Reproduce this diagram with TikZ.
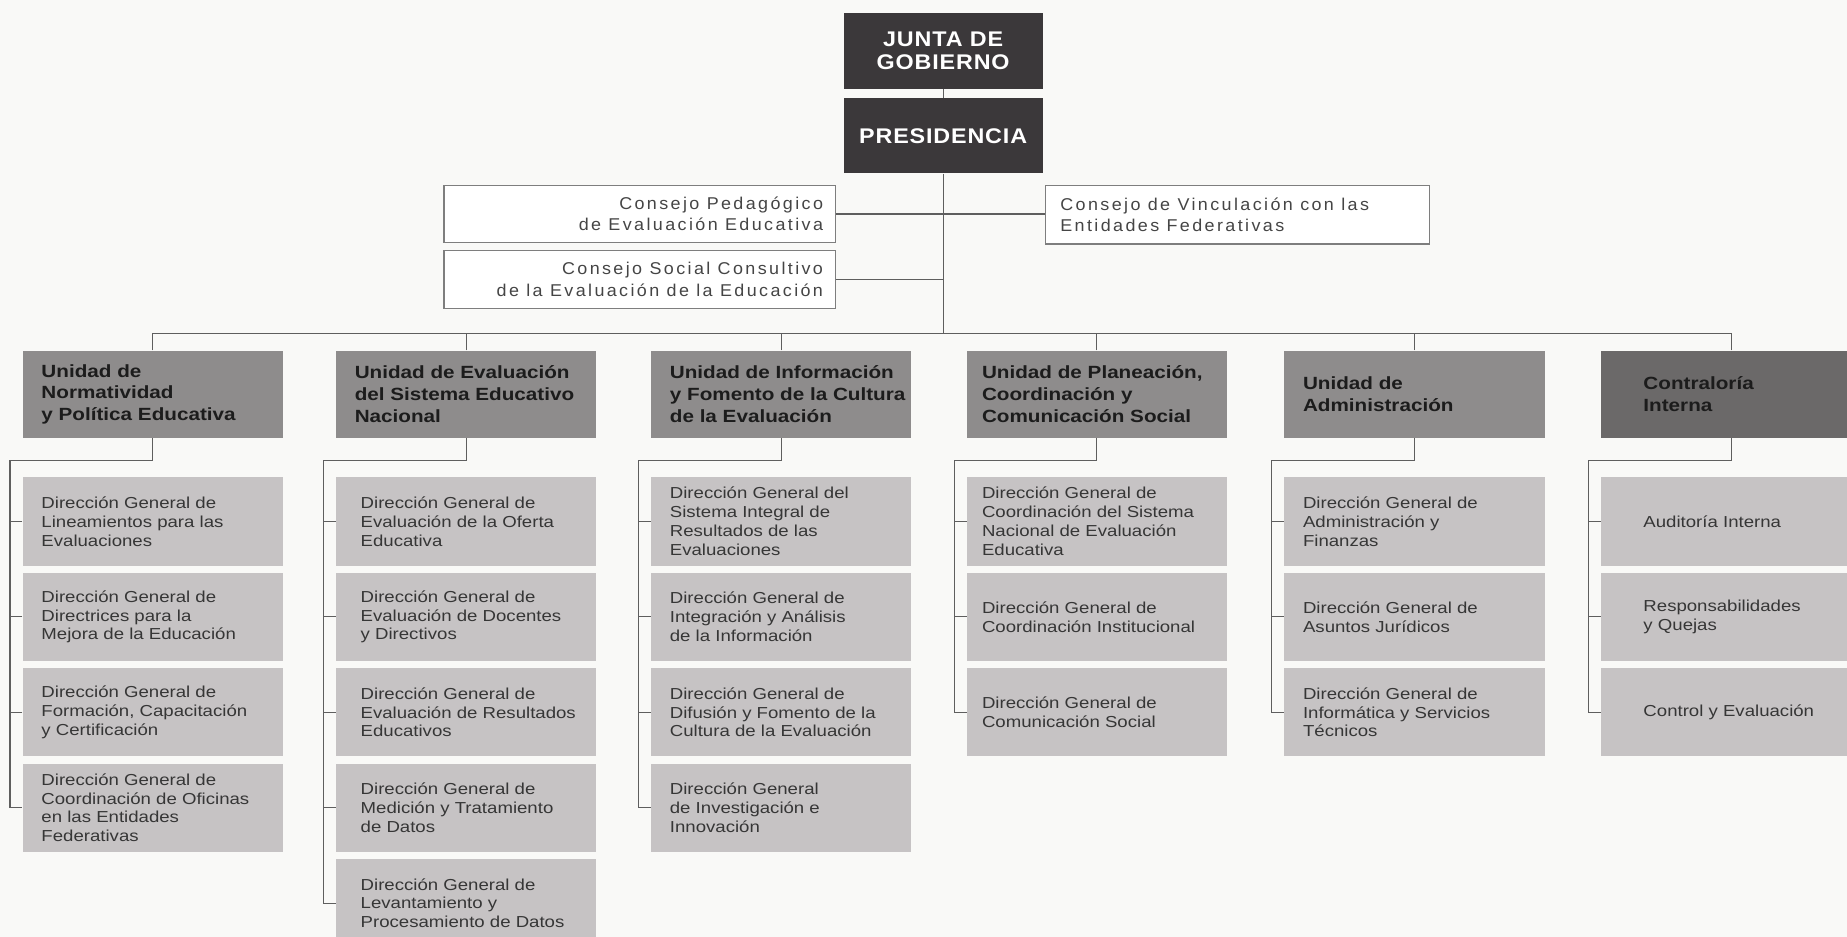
\documentclass[tikz,border=0pt]{standalone}
\usepackage{fontspec}
\setmainfont{Liberation Sans}
\newfontfamily\dirfont[FakeStretch=1.17]{Liberation Sans}
\newfontfamily\unitfont[FakeStretch=1.17]{Liberation Sans}
\newfontfamily\consfont[FakeStretch=1.05,LetterSpace=14]{Liberation Sans}
\newfontfamily\topfont[FakeStretch=1.1,LetterSpace=4]{Liberation Sans}
\definecolor{bgc}{HTML}{F9F9F7}
\definecolor{darkc}{HTML}{3B383A}
\definecolor{unitg}{HTML}{8E8C8C}
\definecolor{contg}{HTML}{6B6969}
\definecolor{dirg}{HTML}{C6C3C4}
\definecolor{linec}{HTML}{5E5E5E}
\definecolor{consb}{HTML}{7E7E7E}
\definecolor{constc}{HTML}{454545}
\definecolor{dirt}{HTML}{363636}
\definecolor{unitt}{HTML}{1C1C1C}
\newcommand\dirnode[5]{%
  \node[dirbox] (#1) at (#2,#3) {};
  \node[dirtxt] (#1t) at ([xshift=#4pt]#1.west) {#5};}
\newcommand\unitnode[5]{%
  \node[unitbox,#5] (#1) at (#2,297.5) {};
  \node[unittxt] (#1t) at ([xshift=#3pt]#1.west) {#4};}
\begin{document}
\begin{tikzpicture}[x=1pt,y=-1pt,
  topbox/.style={fill=darkc, text=white, font={\topfont\bfseries\fontsize{18}{20}\selectfont}, minimum width=169pt, inner sep=0pt, align=center, anchor=north west},
  unitbox/.style={fill=unitg, minimum width=221pt, minimum height=74pt, inner sep=0pt, anchor=north west},
  unittxt/.style={font={\unitfont\bfseries\fontsize{15}{18.5}\selectfont}, text=unitt, align=left, inner sep=0pt, anchor=west},
  dirbox/.style={fill=dirg, minimum width=221pt, minimum height=75pt, inner sep=0pt, anchor=north west},
  dirtxt/.style={font={\dirfont\fontsize{13.5}{16}\selectfont}, text=dirt, align=left, inner sep=0pt, anchor=west},
  consbox/.style={draw=consb, line width=1.1pt, fill=white, inner sep=0pt, anchor=north west},
  constxt/.style={font={\consfont\fontsize{14.5}{18}\selectfont}, text=constc, inner sep=0pt},
  conn/.style={draw=linec, line width=1pt}]
\useasboundingbox (0,0) rectangle (1568,795.4);
\fill[bgc] (0,0) rectangle (1568,795.4);
\clip (0,0) rectangle (1568,795.4);

% top
\node[topbox, minimum height=64.5pt] (junta) at (716,10.8) {JUNTA DE\\GOBIERNO};
\node[topbox, minimum height=64pt] (pres) at (716,83) {PRESIDENCIA};
\draw[conn] (junta.south) -- (pres.north);

% consejos
\node[consbox, minimum width=332.5pt, minimum height=48.2pt] (ped) at (376.3,157) {};
\node[constxt, anchor=east, align=right] (pedt) at ([xshift=-11pt]ped.east) {Consejo Pedagógico\\de Evaluación Educativa};
\node[consbox, minimum width=332.5pt, minimum height=49pt] (soc) at (376.3,212.2) {};
\node[constxt, anchor=east, align=right] (soct) at ([xshift=-11pt]soc.east) {Consejo Social Consultivo\\de la Evaluación de la Educación};
\node[consbox, minimum width=326pt, minimum height=49.5pt] (vin) at (887,157) {};
\node[constxt, anchor=west, align=left] (vint) at ([xshift=13pt]vin.west) {Consejo de Vinculación con las\\Entidades Federativas};
\draw[conn] (ped.east) -- (ped.east -| vin.west);
\draw[conn] (soc.east) -- (soc.east -| pres.south);

% units
\unitnode{u1}{19}{16}{Unidad de\\Normatividad\\y Política Educativa}{}
\unitnode{u2}{285}{16}{Unidad de Evaluación\\del Sistema Educativo\\Nacional}{}
\unitnode{u3}{552.5}{16}{Unidad de Información\\y Fomento de la Cultura\\de la Evaluación}{}
\unitnode{u4}{820.5}{13}{Unidad de Planeación,\\Coordinación y\\Comunicación Social}{}
\unitnode{u5}{1090}{16}{Unidad de\\Administración}{}
\unitnode{u6}{1359}{36}{Contraloría\\Interna}{fill=contg}

\coordinate (bus) at (800,283);
\draw[conn] (pres.south) -- (pres.south |- bus);
\draw[conn] (u1.north |- bus) -- (u6.north |- bus);
\foreach \i in {1,...,6} \draw[conn] (u\i.north) -- (u\i.north |- bus);

% column 1
\dirnode{d11}{19}{405}{16}{Dirección General de\\Lineamientos para las\\Evaluaciones}
\dirnode{d12}{19}{486}{16}{Dirección General de\\Directrices para la\\Mejora de la Educación}
\dirnode{d13}{19}{567}{16}{Dirección General de\\Formación, Capacitación\\y Certificación}
\dirnode{d14}{19}{648}{16}{Dirección General de\\Coordinación de Oficinas\\en las Entidades\\Federativas}
% column 2
\dirnode{d21}{285}{405}{21}{Dirección General de\\Evaluación de la Oferta\\Educativa}
\dirnode{d22}{285}{486}{21}{Dirección General de\\Evaluación de Docentes\\y Directivos}
\dirnode{d23}{285}{567}{21}{Dirección General de\\Evaluación de Resultados\\Educativos}
\dirnode{d24}{285}{648}{21}{Dirección General de\\Medición y Tratamiento\\de Datos}
\dirnode{d25}{285}{729}{21}{Dirección General de\\Levantamiento y\\Procesamiento de Datos}
% column 3
\dirnode{d31}{552.5}{405}{16}{Dirección General del\\Sistema Integral de\\Resultados de las\\Evaluaciones}
\dirnode{d32}{552.5}{486}{16}{Dirección General de\\Integración y Análisis\\de la Información}
\dirnode{d33}{552.5}{567}{16}{Dirección General de\\Difusión y Fomento de la\\Cultura de la Evaluación}
\dirnode{d34}{552.5}{648}{16}{Dirección General\\de Investigación e\\Innovación}
% column 4
\dirnode{d41}{820.5}{405}{13}{Dirección General de\\Coordinación del Sistema\\Nacional de Evaluación\\Educativa}
\dirnode{d42}{820.5}{486}{13}{Dirección General de\\Coordinación Institucional}
\dirnode{d43}{820.5}{567}{13}{Dirección General de\\Comunicación Social}
% column 5
\dirnode{d51}{1090}{405}{16}{Dirección General de\\Administración y\\Finanzas}
\dirnode{d52}{1090}{486}{16}{Dirección General de\\Asuntos Jurídicos}
\dirnode{d53}{1090}{567}{16}{Dirección General de\\Informática y Servicios\\Técnicos}
% column 6
\dirnode{d61}{1359}{405}{36}{Auditoría Interna}
\dirnode{d62}{1359}{486}{36}{Responsabilidades\\y Quejas}
\dirnode{d63}{1359}{567}{36}{Control y Evaluación}

% column connectors
\coordinate (s1) at (8.5,391);
\coordinate (s2) at (274.5,391);
\coordinate (s3) at (542,391);
\coordinate (s4) at (810,391);
\coordinate (s5) at (1079.5,391);
\coordinate (s6) at (1348.5,391);
\draw[conn] (u1.south) |- (s1) |- (d14.west);
\draw[conn] (u2.south) |- (s2) |- (d25.west);
\draw[conn] (u3.south) |- (s3) |- (d34.west);
\draw[conn] (u4.south) |- (s4) |- (d43.west);
\draw[conn] (u5.south) |- (s5) |- (d53.west);
\draw[conn] (u6.south) |- (s6) |- (d63.west);
\foreach \n/\s in {d11/s1,d12/s1,d13/s1,d21/s2,d22/s2,d23/s2,d24/s2,d31/s3,d32/s3,d33/s3,d41/s4,d42/s4,d51/s5,d52/s5,d61/s6,d62/s6}
  \draw[conn] (\n.west) -- (\n.west -| \s);
\end{tikzpicture}
\end{document}
